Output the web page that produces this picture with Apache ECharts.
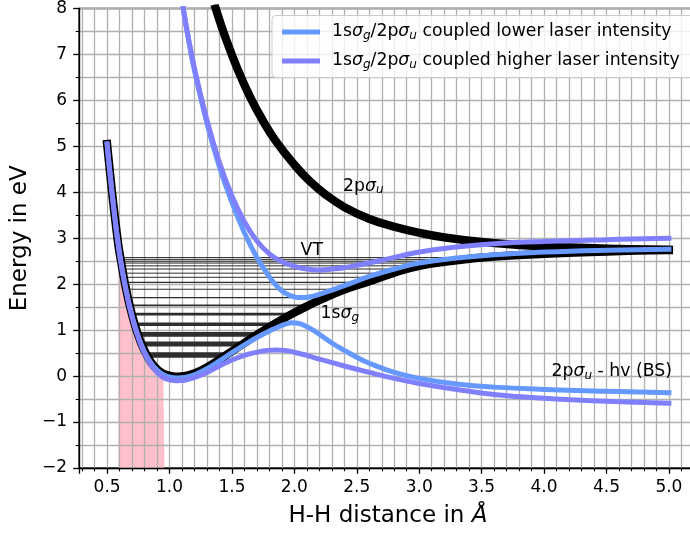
<!DOCTYPE html>
<html><head><meta charset="utf-8">
<script src="https://cdn.jsdelivr.net/npm/echarts@6/dist/echarts.min.js"></script>
<style>html,body{margin:0;padding:0;background:#fff;overflow:hidden}#c{width:700px;height:534px}</style>
</head><body><div id="c"></div>
<script>
// ---------- data ----------
// 1sσg ground state of H2+
const groundR = [0.5,0.55,0.59,0.6,0.65,0.7,0.75,0.8,0.85,0.9,0.95,0.96,1.0,1.06,1.12,1.2,1.3,1.4,1.5,1.6,1.7,1.8,1.9,2.0,2.1,2.2,2.4,2.6,2.8,3.0,3.3,3.6,4.0,4.5,5.0];
const groundE = [5.05,3.75,2.85,2.68,1.92,1.33,0.88,0.55,0.31,0.15,0.05,0.04,0.01,-0.01,0.0,0.06,0.19,0.36,0.54,0.72,0.9,1.07,1.23,1.38,1.52,1.65,1.88,2.06,2.25,2.40,2.52,2.60,2.66,2.71,2.74];
// 2pσu repulsive state
const antiR = [1.37,1.45,1.55,1.65,1.75,1.85,2.0,2.12,2.25,2.4,2.6,2.8,3.0,3.2,3.5,3.8,4.2,4.6,5.0];
const antiE = [8.0,7.35,6.65,6.05,5.55,5.12,4.6,4.25,3.95,3.68,3.42,3.25,3.12,3.02,2.92,2.85,2.8,2.77,2.75];
// coupled curves, lower laser intensity
const lowIntLowerR = [0.5,0.55,0.6,0.65,0.7,0.75,0.8,0.85,0.9,0.95,1.0,1.06,1.12,1.2,1.3,1.4,1.5,1.6,1.7,1.8,1.87,1.93,1.98,2.03,2.08,2.15,2.2,2.3,2.4,2.5,2.6,2.8,3.0,3.3,3.6,4.0,4.5,5.0];
const lowIntLowerE = [5.05,3.74,2.67,1.9,1.31,0.86,0.53,0.29,0.13,0.03,-0.02,-0.04,-0.03,0.03,0.16,0.33,0.51,0.68,0.84,0.98,1.07,1.13,1.16,1.15,1.1,1.0,0.91,0.72,0.56,0.41,0.28,0.08,-0.05,-0.17,-0.24,-0.29,-0.33,-0.36];
const lowIntUpperR = [1.11,1.15,1.2,1.3,1.4,1.5,1.6,1.7,1.8,1.87,1.93,1.98,2.03,2.08,2.15,2.2,2.3,2.4,2.5,2.6,2.8,3.0,3.3,3.6,4.0,4.5,5.0];
const lowIntUpperE = [8.0,7.35,6.65,5.5,4.55,3.78,3.12,2.58,2.16,1.93,1.8,1.74,1.71,1.71,1.74,1.78,1.87,1.97,2.07,2.17,2.33,2.46,2.57,2.64,2.7,2.74,2.76];
// coupled curves, higher laser intensity
const highIntLowerR = [0.5,0.55,0.6,0.65,0.7,0.75,0.8,0.85,0.9,0.95,1.0,1.06,1.12,1.2,1.3,1.4,1.5,1.6,1.7,1.78,1.85,1.92,2.0,2.1,2.2,2.4,2.6,2.8,3.0,3.3,3.6,4.0,4.5,5.0];
const highIntLowerE = [5.05,3.73,2.65,1.88,1.28,0.83,0.49,0.25,0.08,-0.03,-0.08,-0.1,-0.09,-0.03,0.08,0.22,0.35,0.45,0.52,0.56,0.57,0.56,0.52,0.45,0.37,0.22,0.08,-0.05,-0.16,-0.29,-0.4,-0.48,-0.55,-0.59];
const highIntUpperR = [1.11,1.15,1.2,1.3,1.4,1.5,1.6,1.7,1.8,1.9,2.0,2.1,2.2,2.3,2.4,2.5,2.7,3.0,3.3,3.6,4.0,4.5,5.0];
const highIntUpperE = [8.0,7.38,6.7,5.57,4.65,3.92,3.36,2.94,2.66,2.49,2.39,2.33,2.31,2.33,2.36,2.41,2.52,2.7,2.81,2.88,2.93,2.97,3.0];
// vibrational levels of the 1sσg well
const levelE     = [0.46,0.70,0.91,1.13,1.35,1.54,1.71,1.89,2.04,2.15,2.24,2.33,2.40,2.46,2.50,2.54,2.58];
const levelLeft  = [0.819,0.777,0.747,0.722,0.698,0.682,0.668,0.653,0.642,0.635,0.629,0.623,0.618,0.614,0.612,0.609,0.607];
const levelRight = [1.456,1.589,1.706,1.838,1.980,2.115,2.252,2.411,2.578,2.695,2.789,2.907,3.0,3.15,3.25,3.375,3.525];
// Franck-Condon region (shaded)
const fcSpan = [0.59, 0.96];
// tick labels
const xTickLabels = ['0.5','1.0','1.5','2.0','2.5','3.0','3.5','4.0','4.5','5.0'];
const yTickLabels = ['\u22122','\u22121','0','1','2','3','4','5','6','7','8'];

// ---------- styles ----------
const levelWidth = [5.5,5,4.7,3.5,2.8,1.7,1.3,1.2,1.1,1,1,1,1,1,1,1,1];
const FONT = 'DejaVu Sans';
const FS = 17.3;
const TFS = 17;
const BLUE = '#6699ff', PURPLE = '#8080ff';
const subRich = {
  i: {fontFamily: FONT, fontStyle: 'italic', fontSize: FS, lineHeight: 20, color: '#000'},
  s: {fontFamily: FONT, fontStyle: 'italic', fontSize: 12, lineHeight: 12, padding: [8,0,0,0], color: '#000'}
};

const zip = (r, e) => r.map((x, i) => [x, e[i]]);
function curve(name, r, e, color, width, z) {
  return {type: 'line', name: name, data: zip(r, e), symbol: 'none', smooth: 0.45,
    lineStyle: {color: color, width: width, cap: 'square', join: 'round'},
    itemStyle: {color: color}, z: z, silent: true, clip: true, animation: false};
}
function note(x, y, text) {
  return {type: 'scatter', data: [[x, y]], symbolSize: 0, itemStyle: {color: '#000'},
    z: 9, silent: true, animation: false,
    label: {show: true, position: 'right', distance: 0, formatter: text, color: '#000', opacity: 1,
      textBorderWidth: 0, fontFamily: FONT, fontSize: FS, lineHeight: 20, verticalAlign: 'middle', rich: subRich}};
}

const series = [];
series.push({type: 'line', data: zip(groundR, groundE).filter(p => p[0] >= fcSpan[0] && p[0] <= fcSpan[1]),
  symbol: 'none', lineStyle: {width: 0}, areaStyle: {color: '#ffc0cb', opacity: 1, origin: 'start'},
  z: 1, silent: true, animation: false});
levelE.forEach((E, i) => series.push({type: 'line', data: [[levelLeft[i], E], [levelRight[i], E]],
  symbol: 'none', lineStyle: {color: '#2e2e2e', width: levelWidth[i], cap: 'butt'}, z: 4, silent: true, animation: false}));
series.push(curve('ground', groundR, groundE, '#000', 8.3, 5));
series.push(curve('anti', antiR, antiE, '#000', 8.3, 5));
series.push(curve('lower', lowIntLowerR, lowIntLowerE, BLUE, 5, 6));
series.push(curve('lower', lowIntUpperR, lowIntUpperE, BLUE, 5, 6));
series.push(curve('higher', highIntLowerR, highIntLowerE, PURPLE, 5, 7));
series.push(curve('higher', highIntUpperR, highIntUpperE, PURPLE, 5, 7));
series.push(note(2.05, 2.74, 'VT'));
series.push(note(2.21, 1.36, '1s{i|σ}{s|g}'));
series.push(note(2.39, 4.13, '2p{i|σ}{s|u}'));
series.push(note(4.06, 0.10, '2p{i|σ}{s|u} - hv (BS)'));

const legendText = {
  lower: '1s{i|σ}{s|g}/2p{i|σ}{s|u} coupled lower laser intensity',
  higher: '1s{i|σ}{s|g}/2p{i|σ}{s|u} coupled higher laser intensity'
};

const gridLine = {lineStyle: {color: '#b0b0b0', width: 1.3}};
const option = {
  animation: false,
  backgroundColor: '#fff',
  grid: {left: 79, top: 8, width: 618, height: 460, show: true, borderColor: '#000', borderWidth: 1.3, containLabel: false},
  xAxis: {
    type: 'value', min: 0.275, max: 5.225, minInterval: 0.5, maxInterval: 0.5, splitNumber: 10, z: 3,
    axisLine: {show: true, onZero: false, lineStyle: {color: '#000', width: 1.3}},
    axisTick: {show: true, length: 5.8, lineStyle: {color: '#000', width: 1.3}},
    minorTick: {show: true, splitNumber: 5, length: 3.3, lineStyle: {color: '#000', width: 1.1}},
    splitLine: Object.assign({show: true}, gridLine),
    minorSplitLine: Object.assign({show: true}, gridLine),
    axisLabel: {show: true, showMinLabel: false, showMaxLabel: false, margin: 11, color: '#000', fontFamily: FONT, fontSize: TFS,
      formatter: v => { const k = Math.round(v * 2) - 1; return (Math.abs(v * 2 - Math.round(v * 2)) < 1e-6 && k >= 0 && k < xTickLabels.length) ? xTickLabels[k] : ''; }},
    name: 'H-H distance in {i|Å}', nameLocation: 'middle', nameGap: 37,
    nameTextStyle: {fontFamily: FONT, fontSize: 23, color: '#000', rich: {i: {fontFamily: FONT, fontStyle: 'italic', fontSize: 23, color: '#000'}}}
  },
  yAxis: {
    type: 'value', min: -2, max: 8, interval: 1, z: 3,
    axisLine: {show: true, onZero: false, lineStyle: {color: '#000', width: 1.3}},
    axisTick: {show: true, length: 5.8, lineStyle: {color: '#000', width: 1.3}},
    minorTick: {show: true, splitNumber: 2, length: 3.3, lineStyle: {color: '#000', width: 1.1}},
    splitLine: Object.assign({show: true}, gridLine),
    minorSplitLine: Object.assign({show: true}, gridLine),
    axisLabel: {margin: 12, color: '#000', fontFamily: FONT, fontSize: TFS,
      formatter: v => yTickLabels[Math.round(v) + 2]},
    name: 'Energy in eV', nameLocation: 'middle', nameGap: 42,
    nameTextStyle: {fontFamily: FONT, fontSize: 23, color: '#000'}
  },
  legend: {
    data: ['lower', 'higher'], orient: 'vertical', left: 272, top: 15.5, z: 20,
    icon: 'rect', itemWidth: 38, itemHeight: 5, itemGap: 9,
    padding: [6.5, 16, 6.5, 10],
    backgroundColor: 'rgba(255,255,255,0.8)', borderColor: '#cccccc', borderWidth: 1, borderRadius: 4,
    selectedMode: false,
    formatter: n => legendText[n],
    textStyle: {fontFamily: FONT, fontSize: FS, lineHeight: 20, color: '#000', padding: [0, 0, 0, 7], rich: subRich}
  },
  series: series
};
const chart = echarts.init(document.getElementById('c'));
chart.setOption(option);
</script></body></html>
